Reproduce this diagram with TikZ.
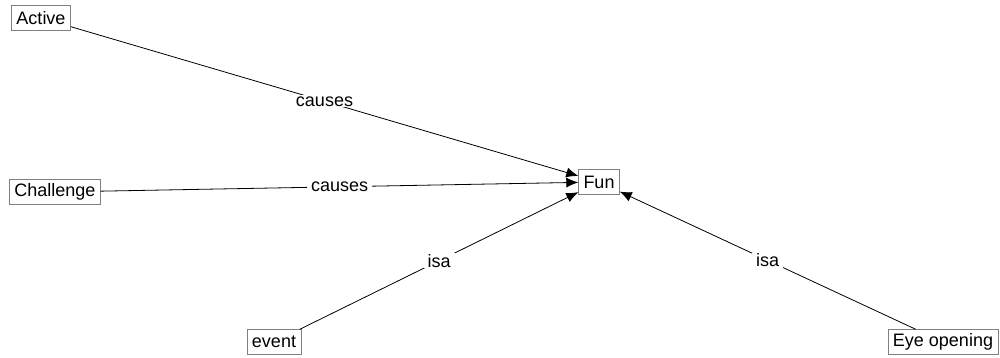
\documentclass[tikz,border=0pt]{standalone}
\usepackage{fontspec}
\setmainfont{Liberation Sans}
\usetikzlibrary{arrows.meta}

\begin{document}
\begin{tikzpicture}[x=1pt, y=-1pt,
    concept/.style={draw=gray, rectangle, inner xsep=5pt, inner ysep=0pt, minimum height=25pt,
    font=\fontsize{18}{20}\selectfont},
    rel/.style={line width=0.8pt, -{Latex[length=12pt,width=10pt]}},
    rellabel/.style={fill=white, inner xsep=4pt, inner ysep=1pt, font=\fontsize{18}{20}\selectfont}]
    \useasboundingbox (0,0) rectangle (1000,358);
    \node[concept] (active) at (41,18) {Active};
    \node[concept] (challenge) at (55,192) {Challenge};
    \node[concept] (fun) at (599,182) {Fun};
    \node[concept] (event) at (274,342) {event};
    \node[concept] (eye) at (943,342) {Eye opening};
    \draw[rel] (active) -- node[rellabel] {causes} (fun);
    \draw[rel] (challenge) -- node[rellabel] {causes} (fun);
    \draw[rel] (event) -- node[rellabel] {isa} (fun);
    \draw[rel] (eye) -- node[rellabel] {isa} (fun);
\end{tikzpicture}
\end{document}
